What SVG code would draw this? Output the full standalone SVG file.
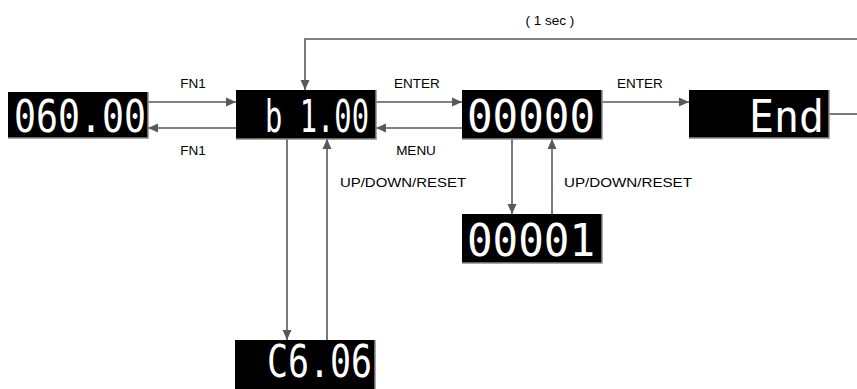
<svg xmlns="http://www.w3.org/2000/svg" width="857" height="389" viewBox="0 0 857 389">
<style>
.box{fill:#000}
.edge{fill:none;stroke:#8c8c8c;stroke-width:1.5}
.seg{font-family:"DejaVu Sans Mono","Liberation Mono",monospace;font-size:44px;fill:#fff}
.lbl{font-family:"Liberation Sans",Arial,sans-serif;font-size:13.5px;fill:#000;text-anchor:middle}
.ln{fill:none;stroke:#595959;stroke-width:1.6}
</style>
<defs>
<marker id="ah" viewBox="0 0 10 10" refX="10" refY="5" markerWidth="10" markerHeight="10" markerUnits="userSpaceOnUse" orient="auto">
<path d="M0,0.5 L10,5 L0,9.5 Z" fill="#595959"/>
</marker>
</defs>
<rect width="857" height="389" fill="#fff"/>
<g id="connectors">
<line class="ln" x1="148" y1="102" x2="236" y2="102" marker-end="url(#ah)"/>
<line class="ln" x1="236" y1="128" x2="148" y2="128" marker-end="url(#ah)"/>
<line class="ln" x1="376" y1="102" x2="462" y2="102" marker-end="url(#ah)"/>
<line class="ln" x1="462" y1="128" x2="376" y2="128" marker-end="url(#ah)"/>
<line class="ln" x1="602" y1="102" x2="689" y2="102" marker-end="url(#ah)"/>
<line class="ln" x1="829" y1="114" x2="857" y2="114"/>
<path class="ln" d="M857,39 H305 V90" marker-end="url(#ah)"/>
<line class="ln" x1="287" y1="139" x2="287" y2="340" marker-end="url(#ah)"/>
<line class="ln" x1="327" y1="340" x2="327" y2="139" marker-end="url(#ah)"/>
<line class="ln" x1="512" y1="139" x2="512" y2="214" marker-end="url(#ah)"/>
<line class="ln" x1="552" y1="214" x2="552" y2="139" marker-end="url(#ah)"/>
<text class="lbl" x="193" y="88">FN1</text>
<text class="lbl" x="193" y="155">FN1</text>
<text class="lbl" x="417" y="88">ENTER</text>
<text class="lbl" x="416" y="155">MENU</text>
<text class="lbl" x="640" y="88">ENTER</text>
<text class="lbl" x="550" y="25">( 1 sec )</text>
<text class="lbl" x="403" y="187" textLength="126" lengthAdjust="spacingAndGlyphs">UP/DOWN/RESET</text>
<text class="lbl" x="628" y="187" textLength="128" lengthAdjust="spacingAndGlyphs">UP/DOWN/RESET</text>
</g>
<g id="d1">
<rect class="box" x="8" y="92" width="140" height="46"/>
<path class="edge" d="M148,92 V138 H8"/>
<text class="seg" x="14" y="132" textLength="132" lengthAdjust="spacingAndGlyphs">060.00</text>
</g>
<g id="d2">
<rect class="box" x="236" y="90" width="140" height="49"/>
<path class="edge" d="M376,90 V139 H236"/>
<text class="seg" x="265" y="132" textLength="104" lengthAdjust="spacingAndGlyphs">b 1.00</text>
</g>
<g id="d3">
<rect class="box" x="462" y="90" width="140" height="49"/>
<path class="edge" d="M602,90 V139 H462"/>
<text class="seg" x="467" y="132" textLength="128" lengthAdjust="spacingAndGlyphs">00000</text>
</g>
<g id="d4">
<rect class="box" x="689" y="90" width="140" height="48"/>
<path class="edge" d="M829,90 V138 H689"/>
<text class="seg" x="749" y="132" textLength="75" lengthAdjust="spacingAndGlyphs">End</text>
</g>
<g id="d5">
<rect class="box" x="462" y="214" width="140" height="49"/>
<path class="edge" d="M602,214 V263 H462"/>
<text class="seg" x="467" y="256" textLength="128" lengthAdjust="spacingAndGlyphs">00001</text>
</g>
<g id="d6">
<rect class="box" x="235" y="340" width="140" height="49"/>
<path class="edge" d="M375,340 V389"/>
<text class="seg" x="267" y="377" textLength="105" lengthAdjust="spacingAndGlyphs">C6.06</text>
</g>
</svg>
